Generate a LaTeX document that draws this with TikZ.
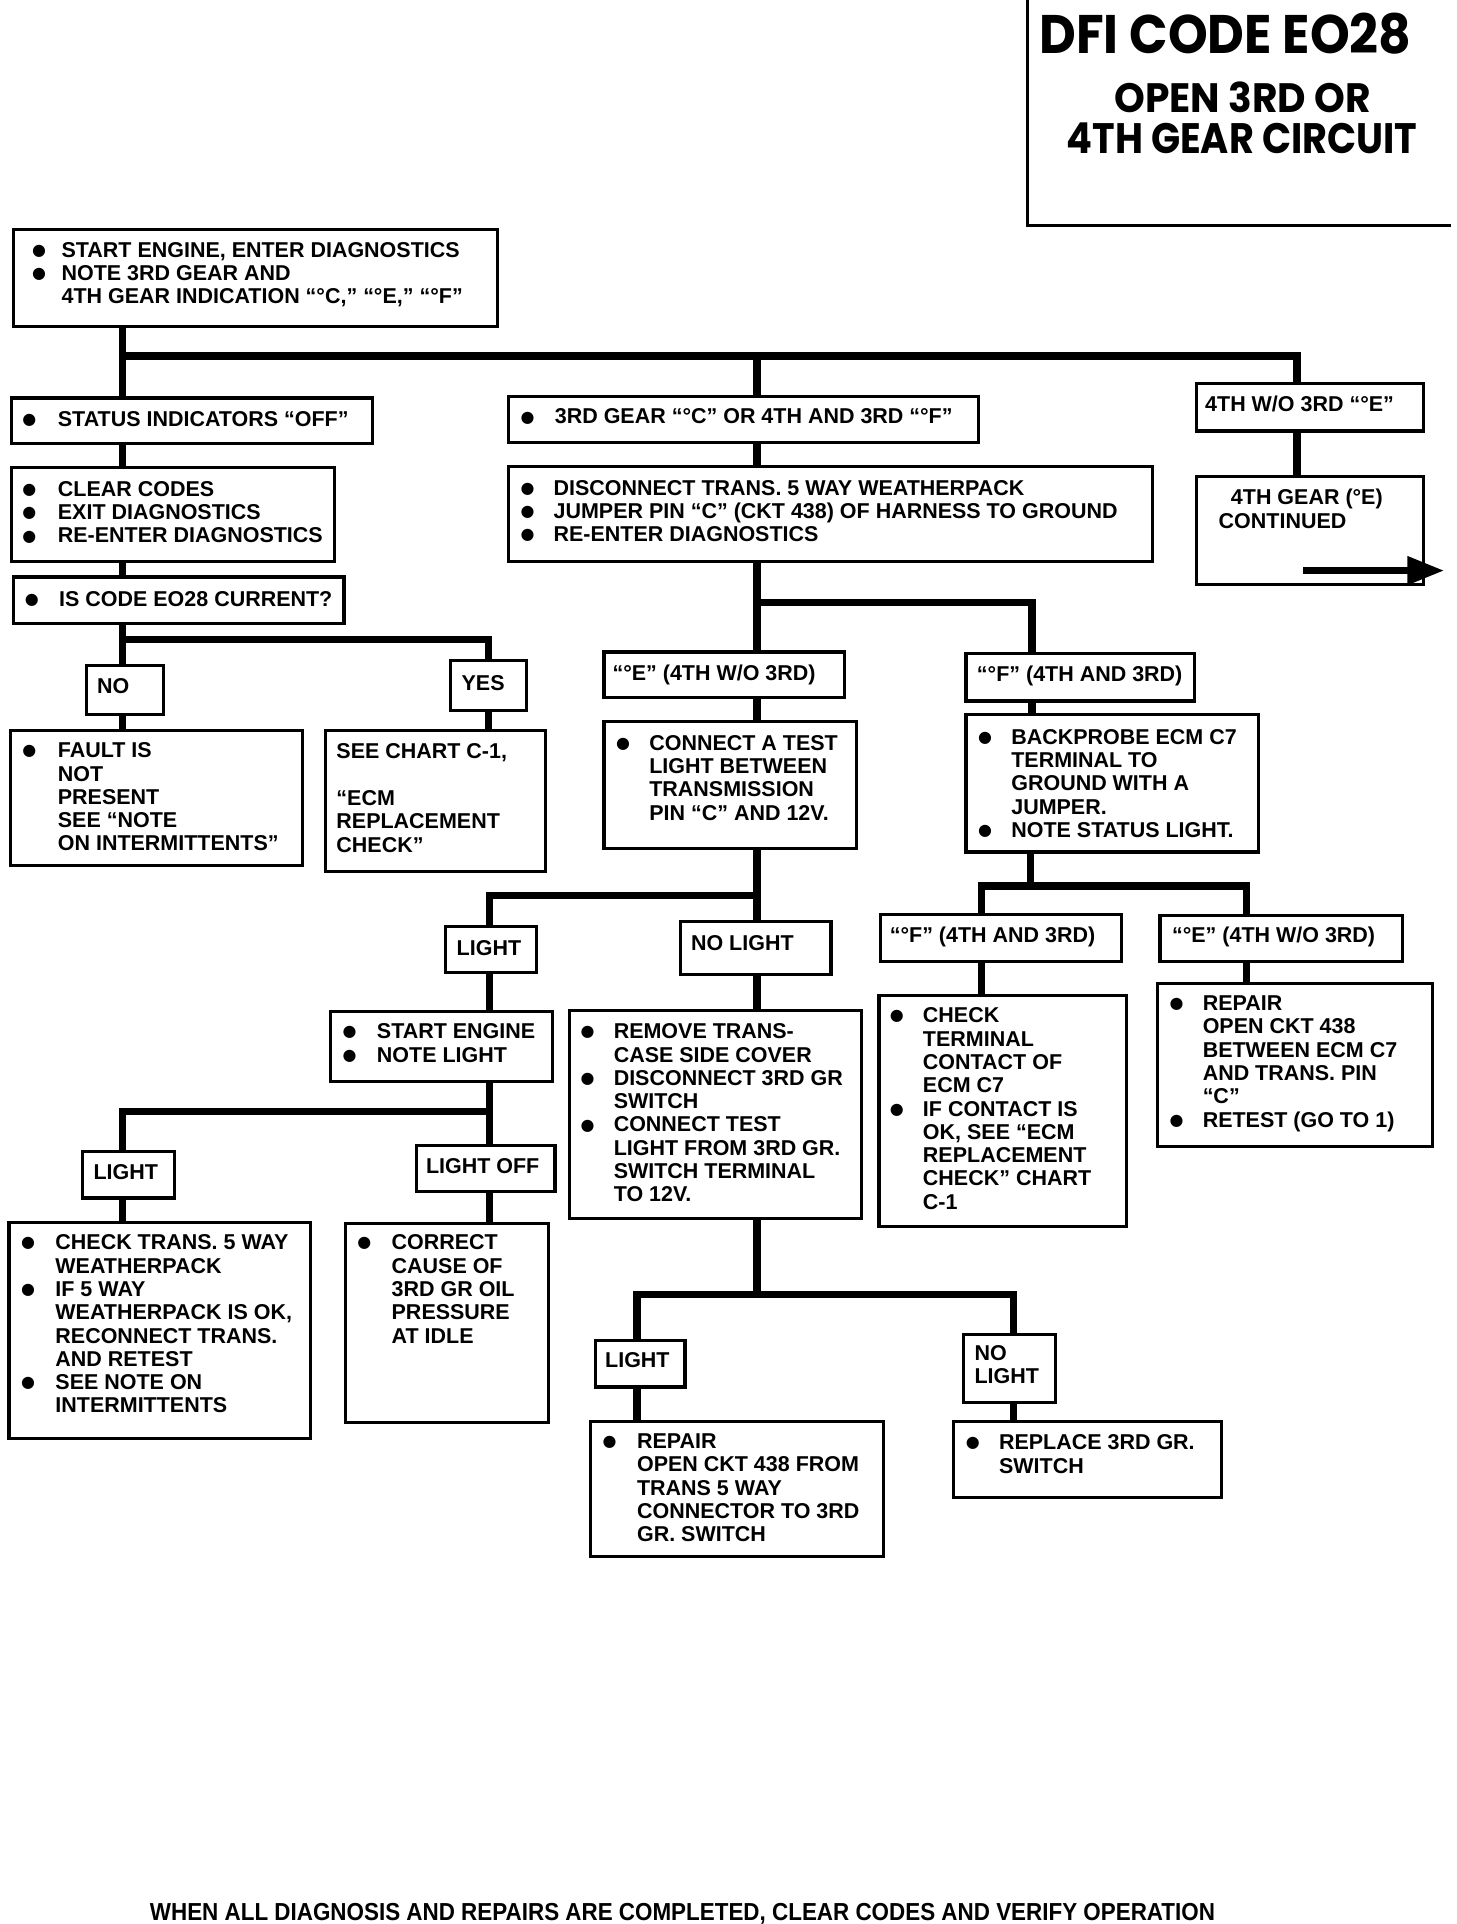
\documentclass[tikz,border=0pt]{standalone}
\usepackage{fontspec}
\usepackage{graphicx}
\setmainfont{Liberation Sans}
\newfontfamily\titlefont{Poppins}
\newfontfamily\dejavu{DejaVu Sans}
\usetikzlibrary{arrows.meta}
\newcommand\bul{\raisebox{1.5pt}{\fontsize{13pt}{19pt}\selectfont\dejavu ●}}
\newcommand\bx[5]{\node[box, minimum width={#4-#2}, minimum height={#5-#3}] (#1) at (#2,#3) {};}
\newcommand\btx[5]{\node[txt] (#1) at (#2,#4-7) {\begin{tabular}{@{}p{\dimexpr #3pt-#2pt\relax}@{}l@{}}#5\end{tabular}};}
\newcommand\ptx[4]{\node[txt] (#1) at (#2,#3-7) {\begin{tabular}{@{}l@{}}#4\end{tabular}};}
\begin{document}
\begin{tikzpicture}[x=1pt,y=-1pt,
  box/.style={draw, line width=2.6pt, inner sep=0pt, anchor=north west},
  conn/.style={line width=6pt},
  txt/.style={inner sep=0pt, anchor=north west, font=\fontsize{17.5pt}{19pt}\selectfont\bfseries}]
\useasboundingbox (0,0) rectangle (1187,1568);

% title
\node[inner sep=0pt, minimum width=345pt, minimum height=183pt, anchor=north west] (title) at (837,0) {};
\draw[line width=2.4pt] (title.north west) -- (title.south west) -- (title.south east);
\node[anchor=base west, inner sep=0pt] (t1) at (847,44) {\resizebox{303pt}{33pt}{\titlefont\bfseries DFI CODE EO28}};
\node[anchor=base west, inner sep=0pt] (t2) at (908,92) {\resizebox{209pt}{25pt}{\titlefont\bfseries OPEN 3RD OR}};
\node[anchor=base west, inner sep=0pt] (t3) at (869,125) {\resizebox{286pt}{25pt}{\titlefont\bfseries 4TH GEAR CIRCUIT}};

% boxes
\bx{b1}{10}{186}{404}{265}
\bx{st}{8}{323}{302}{360}
\bx{cc}{8}{380}{271}{456}
\bx{ic}{10}{469}{279}{507}
\bx{no}{69}{541}{132}{581}
\bx{yes}{366}{537}{428}{578}
\bx{fault}{7}{594}{245}{704}
\bx{see}{264}{594}{443}{709}
\bx{g3}{413}{322}{796}{359}
\bx{dis}{413}{379}{938}{456}
\bx{e1}{491}{530}{687}{567}
\bx{f1}{786}{531}{972}{570}
\bx{con}{491}{587}{697}{690}
\bx{bp}{786}{581}{1024}{693}
\bx{l1}{362}{754}{436}{791}
\bx{nl1}{553}{750}{676}{793}
\bx{f2}{716}{744}{913}{782}
\bx{e2}{944}{745}{1142}{782}
\bx{chk}{715}{810}{917}{998}
\bx{rep}{942}{800}{1166}{933}
\bx{se}{268}{823}{449}{880}
\bx{l2}{66}{937}{141}{975}
\bx{loff}{338}{932}{451}{970}
\bx{ct}{6}{995}{252}{1171}
\bx{corr}{280}{996}{446}{1158}
\bx{rem}{463}{822}{701}{992}
\bx{l3}{484}{1091}{557}{1129}
\bx{nl2}{784}{1086}{859}{1142}
\bx{rep2}{480}{1157}{719}{1267}
\bx{repl}{776}{1157}{994}{1219}
\bx{w4}{974}{311}{1159}{350}
\bx{cnt}{974}{387}{1159}{475}

% texts
\btx{b1T}{26}{50}{203}{\bul & START ENGINE, ENTER DIAGNOSTICS\\ \bul & NOTE 3RD GEAR AND\\ & 4TH GEAR INDICATION “°C,” “°E,” “°F”}
\btx{stT}{18}{47}{341}{\bul & STATUS INDICATORS “OFF”}
\btx{ccT}{18}{47}{398}{\bul & CLEAR CODES\\ \bul & EXIT DIAGNOSTICS\\ \bul & RE-ENTER DIAGNOSTICS}
\btx{icT}{20}{48}{488}{\bul & IS CODE EO28 CURRENT?}
\ptx{noT}{79}{559}{NO}
\ptx{yesT}{376}{556}{YES}
\btx{faultT}{18}{47}{611}{\bul & FAULT IS\\ & NOT\\ & PRESENT\\ & SEE “NOTE\\ & ON INTERMITTENTS”}
\ptx{seeT}{274}{612}{SEE CHART C-1,\\ \\ “ECM\\ REPLACEMENT\\ CHECK”}
\btx{g3T}{424}{452}{339}{\bul & 3RD GEAR “°C” OR 4TH AND 3RD “°F”}
\btx{disT}{424}{451}{397}{\bul & DISCONNECT TRANS. 5 WAY WEATHERPACK\\ \bul & JUMPER PIN “C” (CKT 438) OF HARNESS TO GROUND\\ \bul & RE-ENTER DIAGNOSTICS}
\ptx{e1T}{499}{548}{“°E” (4TH W/O 3RD)}
\ptx{f1T}{796}{549}{“°F” (4TH AND 3RD)}
\btx{conT}{502}{529}{605}{\bul & CONNECT A TEST\\ & LIGHT BETWEEN\\ & TRANSMISSION\\ & PIN “C” AND 12V.}
\btx{bpT}{797}{824}{600}{\bul & BACKPROBE ECM C7\\ & TERMINAL TO\\ & GROUND WITH A\\ & JUMPER.\\ \bul & NOTE STATUS LIGHT.}
\ptx{l1T}{372}{772}{LIGHT}
\ptx{nl1T}{563}{768}{NO LIGHT}
\ptx{f2T}{725}{762}{“°F” (4TH AND 3RD)}
\ptx{e2T}{955}{762}{“°E” (4TH W/O 3RD)}
\btx{chkT}{725}{752}{827}{\bul & CHECK\\ & TERMINAL\\ & CONTACT OF\\ & ECM C7\\ \bul & IF CONTACT IS\\ & OK, SEE “ECM\\ & REPLACEMENT\\ & CHECK” CHART\\ & C-1}
\btx{repT}{953}{980}{817}{\bul & REPAIR\\ & OPEN CKT 438\\ & BETWEEN ECM C7\\ & AND TRANS. PIN\\ & “C”\\ \bul & RETEST (GO TO 1)}
\btx{seT}{279}{307}{840}{\bul & START ENGINE\\ \bul & NOTE LIGHT}
\ptx{l2T}{76}{955}{LIGHT}
\ptx{loffT}{347}{950}{LIGHT OFF}
\btx{ctT}{17}{45}{1012}{\bul & CHECK TRANS. 5 WAY\\ & WEATHERPACK\\ \bul & IF 5 WAY\\ & WEATHERPACK IS OK,\\ & RECONNECT TRANS.\\ & AND RETEST\\ \bul & SEE NOTE ON\\ & INTERMITTENTS}
\btx{corrT}{291}{319}{1012}{\bul & CORRECT\\ & CAUSE OF\\ & 3RD GR OIL\\ & PRESSURE\\ & AT IDLE}
\btx{remT}{473}{500}{840}{\bul & REMOVE TRANS-\\ & CASE SIDE COVER\\ \bul & DISCONNECT 3RD GR\\ & SWITCH\\ \bul & CONNECT TEST\\ & LIGHT FROM 3RD GR.\\ & SWITCH TERMINAL\\ & TO 12V.}
\ptx{l3T}{493}{1108}{LIGHT}
\ptx{nl2T}{794}{1102}{NO\\ LIGHT}
\btx{rep2T}{491}{519}{1174}{\bul & REPAIR\\ & OPEN CKT 438 FROM\\ & TRANS 5 WAY\\ & CONNECTOR TO 3RD\\ & GR. SWITCH}
\btx{replT}{787}{814}{1175}{\bul & REPLACE 3RD GR.\\ & SWITCH}
\ptx{w4T}{982}{329}{4TH W/O 3RD “°E”}
\ptx{cntT1}{1003}{405}{4TH GEAR (°E)}
\ptx{cntT2}{993}{424}{CONTINUED}

% connectors
\coordinate (j1) at (100,290); \coordinate (j1m) at (617,290); \coordinate (j1r) at (1057,290);
\draw[conn] (b1.south -| j1) -- (j1 |- st.north);
\draw[conn] (j1) -- (j1r) -- (j1r |- w4.north);
\draw[conn] (j1m) -- (j1m |- g3.north);
\draw[conn] (st.south -| j1) -- (cc.north -| j1);
\draw[conn] (cc.south -| j1) -- (ic.north -| j1);
\coordinate (j2) at (100,521); \coordinate (j2r) at (398,521);
\draw[conn] (ic.south -| j2) -- (j2 |- no.north);
\draw[conn] (j2) -- (j2r) -- (j2r |- yes.north);
\draw[conn] (no.south -| j2) -- (fault.north -| j2);
\draw[conn] (yes.south -| j2r) -- (see.north -| j2r);
\draw[conn] (g3.south -| j1m) -- (dis.north -| j1m);
\coordinate (j3) at (617,491); \coordinate (j3r) at (841,491);
\draw[conn] (dis.south -| j3) -- (j3 |- e1.north);
\draw[conn] (j3) -- (j3r) -- (j3r |- f1.north);
\draw[conn] (e1.south -| j3) -- (con.north -| j3);
\draw[conn] (f1.south -| j3r) -- (bp.north -| j3r);
\coordinate (j4) at (617,730); \coordinate (j4l) at (399,730);
\draw[conn] (con.south -| j4) -- (j4 |- nl1.north);
\draw[conn] (j4) -- (j4l) -- (j4l |- l1.north);
\draw[conn] (l1.south -| j4l) -- (se.north -| j4l);
\coordinate (j5) at (399,906); \coordinate (j5l) at (100,906);
\draw[conn] (se.south -| j5) -- (j5 |- loff.north);
\draw[conn] (j5) -- (j5l) -- (j5l |- l2.north);
\draw[conn] (l2.south -| j5l) -- (ct.north -| j5l);
\draw[conn] (loff.south -| j5) -- (corr.north -| j5);
\draw[conn] (nl1.south -| j4) -- (rem.north -| j4);
\coordinate (j6) at (617,1055); \coordinate (j6l) at (519,1055); \coordinate (j6r) at (826,1055);
\draw[conn] (rem.south -| j6) -- (j6);
\draw[conn] (j6l |- l3.north) -- (j6l) -- (j6r) -- (j6r |- nl2.north);
\draw[conn] (l3.south -| j6l) -- (rep2.north -| j6l);
\draw[conn] (nl2.south -| j6r) -- (repl.north -| j6r);
\coordinate (j7) at (840,722); \coordinate (j7l) at (800,722); \coordinate (j7r) at (1016,722);
\draw[conn] (bp.south -| j7) -- (j7);
\draw[conn] (j7l |- f2.north) -- (j7l) -- (j7r) -- (j7r |- e2.north);
\draw[conn] (f2.south -| j7l) -- (chk.north -| j7l);
\draw[conn] (e2.south -| j7r) -- (rep.north -| j7r);
\draw[conn] (w4.south -| j1r) -- (cnt.north -| j1r);
\coordinate (a1) at (1062,465); \coordinate (a2) at (1177,465);
\draw[line width=6pt, -{Triangle[length=30pt,width=22pt]}] (a1) -- (a2);

% footer
\node[anchor=base west, inner sep=0pt] (foot) at (122,1565) {\resizebox{868pt}{14pt}{\bfseries WHEN ALL DIAGNOSIS AND REPAIRS ARE COMPLETED, CLEAR CODES AND VERIFY OPERATION}};
\end{tikzpicture}
\end{document}
